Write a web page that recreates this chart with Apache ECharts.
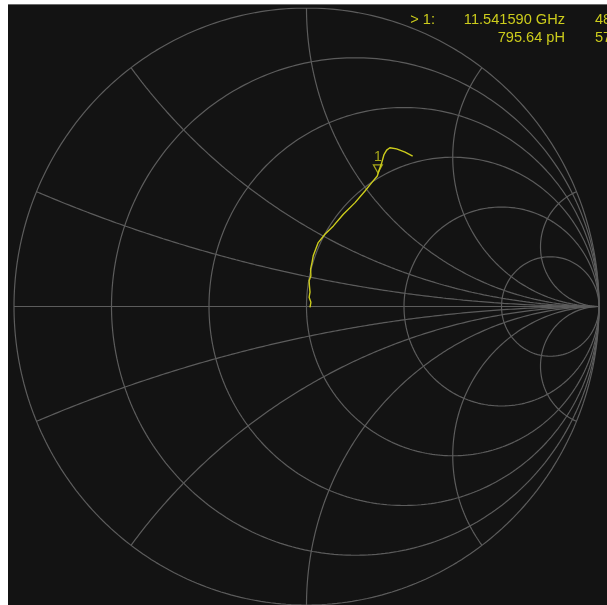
<!DOCTYPE html>
<html>
<head>
<meta charset="utf-8">
<script src="https://cdn.jsdelivr.net/npm/echarts@6/dist/echarts.min.js"></script>
<style>
  html, body { margin: 0; padding: 0; background: #fff; }
  #bg { position: absolute; left: 8px; top: 4px; width: 599px; height: 601px; background: #131313; border-top: 1px solid #6a6a6a; box-sizing: border-box; }
  #main { position: absolute; left: 0; top: 0; width: 607px; height: 605px; }
</style>
</head>
<body>
<div id="bg"></div>
<div id="main"></div>
<script>
// smith chart grid values (normalized)
var resistanceCircles = [0.2, 0.5, 1, 2, 5];
var reactanceArcs = [0.2, 0.5, 1, 2, 5, -0.2, -0.5, -1, -2, -5];

// measured trace, reflection coefficient (re / im)
var traceRe = [0.012, 0.015, 0.009, 0.012, 0.010, 0.009, 0.015, 0.014, 0.019, 0.023, 0.040, 0.063, 0.092, 0.126, 0.166, 0.200, 0.223, 0.242, 0.249, 0.257, 0.265, 0.274, 0.285, 0.308, 0.337, 0.363];
var traceIm = [-0.003, 0.014, 0.031, 0.048, 0.069, 0.086, 0.103, 0.125, 0.148, 0.170, 0.214, 0.242, 0.270, 0.309, 0.348, 0.387, 0.415, 0.437, 0.459, 0.481, 0.509, 0.524, 0.532, 0.528, 0.517, 0.504];

// marker 1
var markerName = '1';
var markerRe = 0.244;
var markerIm = 0.441;
var markerRow1 = ['> 1:', '11.541590 GHz', '48'];
var markerRow2 = ['795.64 pH', '57'];

var gridColor = '#5c5c5c';
var traceColor = '#cccc1c';

function circlePts(cx, cy, rad) {
    var pts = [];
    for (var i = 0; i <= 360; i++) {
        var a = i / 360 * Math.PI * 2;
        pts.push([cx + rad * Math.cos(a), cy + rad * Math.sin(a)]);
    }
    return pts;
}

// gamma = (z-1)/(z+1), z = r + jx
function gamma(r, x) {
    var d = (r + 1) * (r + 1) + x * x;
    return [(r * r + x * x - 1) / d, (2 * x) / d];
}

function arcPts(x) {
    var pts = [];
    for (var i = 0; i < 400; i++) {
        var r = Math.tan(i / 400 * Math.PI / 2);
        pts.push(gamma(r, x));
    }
    pts.push([1, 0]);
    return pts;
}

function gridLine(data) {
    return {
        type: 'line', data: data, showSymbol: false, silent: true,
        lineStyle: { color: gridColor, width: 1.2 }, z: 1
    };
}

var series = [];
series.push(gridLine(circlePts(0, 0, 1)));
series.push(gridLine([[-1, 0], [1, 0]]));
for (var i = 0; i < resistanceCircles.length; i++) {
    var r = resistanceCircles[i];
    series.push(gridLine(circlePts(r / (1 + r), 0, 1 / (1 + r))));
}
for (var j = 0; j < reactanceArcs.length; j++) {
    series.push(gridLine(arcPts(reactanceArcs[j])));
}

var traceData = [];
for (var k = 0; k < traceRe.length; k++) {
    traceData.push([traceRe[k], traceIm[k]]);
}
series.push({
    type: 'line', data: traceData, showSymbol: false, silent: true, smooth: false,
    lineStyle: { color: traceColor, width: 1.4 }, z: 5
});
series.push({
    type: 'scatter', data: [[markerRe, markerIm]], silent: true,
    symbol: 'triangle', symbolRotate: 180, symbolSize: [9, 8], symbolOffset: [0, -6],
    itemStyle: { color: 'rgba(0,0,0,0)', borderColor: traceColor, borderWidth: 1.2 },
    label: {
        show: true, formatter: markerName, position: 'top', distance: 0,
        color: traceColor, fontSize: 14, fontFamily: 'Liberation Sans, Arial, sans-serif'
    },
    z: 6
});

var font = '14.6px "Liberation Sans", Arial, sans-serif';
function txt(x, y, s, align) {
    return {
        type: 'text', x: x, y: y, silent: true,
        style: { text: s, fill: traceColor, font: font, align: align, verticalAlign: 'middle' }
    };
}

var chart = echarts.init(document.getElementById('main'));
chart.setOption({
    animation: false,
    backgroundColor: 'transparent',
    grid: { left: 14, top: 8, width: 585, height: 599 },
    xAxis: { type: 'value', min: -1, max: 1, show: false },
    yAxis: { type: 'value', min: -1, max: 1, show: false },
    series: series,
    graphic: [
        txt(435, 20, markerRow1[0], 'right'),
        txt(565, 20, markerRow1[1], 'right'),
        txt(595, 20, markerRow1[2], 'left'),
        txt(565, 38, markerRow2[0], 'right'),
        txt(595, 38, markerRow2[1], 'left')
    ]
});
</script>
</body>
</html>
